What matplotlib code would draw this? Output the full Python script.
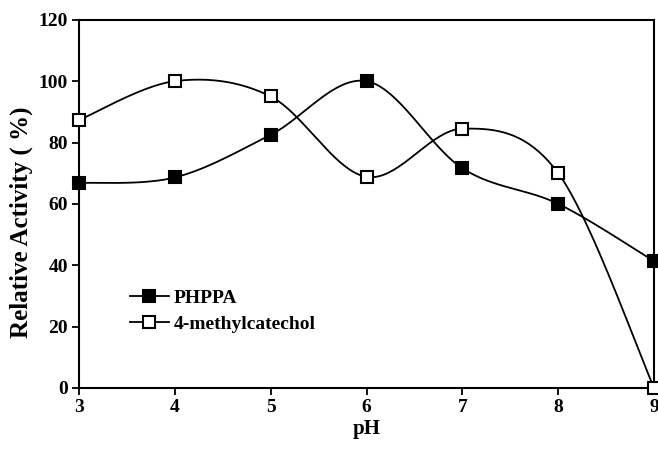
import numpy as np
import matplotlib
matplotlib.use("Agg")
import matplotlib.pyplot as plt

ph = [3, 4, 5, 6, 7, 8, 9]
phppa = [66.8, 68.6, 82.5, 100.0, 71.6, 60.0, 41.3]
methylcatechol = [87.3, 100.0, 95.0, 68.8, 84.5, 70.0, 0.0]
x_ticks = [3, 4, 5, 6, 7, 8, 9]
y_ticks = [0, 20, 40, 60, 80, 100, 120]

plt.rcParams['font.family'] = ['Liberation Serif', 'DejaVu Serif']
plt.rcParams['font.weight'] = 'bold'


def smooth(xs, ys, n=40):
    """Excel-like smoothed line (Catmull-Rom Bezier) through the points."""
    xs = np.asarray(xs, float)
    ys = np.asarray(ys, float)
    px = np.concatenate([[xs[0]], xs, [xs[-1]]])
    py = np.concatenate([[ys[0]], ys, [ys[-1]]])
    outx, outy = [], []
    t = np.linspace(0, 1, n)
    for i in range(1, len(px) - 2):
        p0 = np.array([px[i], py[i]])
        p3 = np.array([px[i + 1], py[i + 1]])
        c1 = p0 + (np.array([px[i + 1], py[i + 1]]) - np.array([px[i - 1], py[i - 1]])) / 6
        c2 = p3 - (np.array([px[i + 2], py[i + 2]]) - np.array([px[i], py[i]])) / 6
        b = ((1 - t) ** 3)[:, None] * p0 + (3 * (1 - t) ** 2 * t)[:, None] * c1 \
            + (3 * (1 - t) * t ** 2)[:, None] * c2 + (t ** 3)[:, None] * p3
        outx.extend(b[:, 0])
        outy.extend(b[:, 1])
    return outx, outy


fig = plt.figure(figsize=(6.58, 4.5), dpi=100)
ax = fig.add_axes([0.12, 0.138, 0.874, 0.818])

lw = 1.3
ms = 8.3
for ys, face, label in [(phppa, 'black', 'PHPPA'), (methylcatechol, 'white', '4-methylcatechol')]:
    sx, sy = smooth(ph, ys)
    ax.plot(sx, sy, color='black', lw=lw, zorder=2)
    ax.plot(ph, ys, linestyle='none', marker='s', markersize=ms,
            markerfacecolor=face, markeredgecolor='black', markeredgewidth=1.5,
            zorder=3, clip_on=False)
    ax.plot([], [], color='black', lw=lw, marker='s', markersize=ms,
            markerfacecolor=face, markeredgecolor='black', markeredgewidth=1.5,
            label=label)

ax.set_xlim(3, 9)
ax.set_ylim(0, 120)
ax.set_xticks(x_ticks)
ax.set_yticks(y_ticks)
ax.tick_params(direction='out', length=5, width=1.3, labelsize=14, pad=3)
for lab in ax.get_xticklabels() + ax.get_yticklabels():
    lab.set_fontweight('bold')
for s in ax.spines.values():
    s.set_linewidth(1.5)

ax.set_xlabel('pH', fontsize=15, fontweight='bold', labelpad=2)
ax.set_ylabel('Relative Activity ( %)', fontsize=18, fontweight='bold')
ax.yaxis.set_label_coords(-0.08, 0.45)

leg = ax.legend(loc='upper left', bbox_to_anchor=(0.075, 0.29), frameon=False,
                handlelength=2.0, handletextpad=0.25, labelspacing=0.45,
                borderaxespad=0.0, prop={'weight': 'bold', 'size': 14})

fig.savefig('out.png', dpi=100)
